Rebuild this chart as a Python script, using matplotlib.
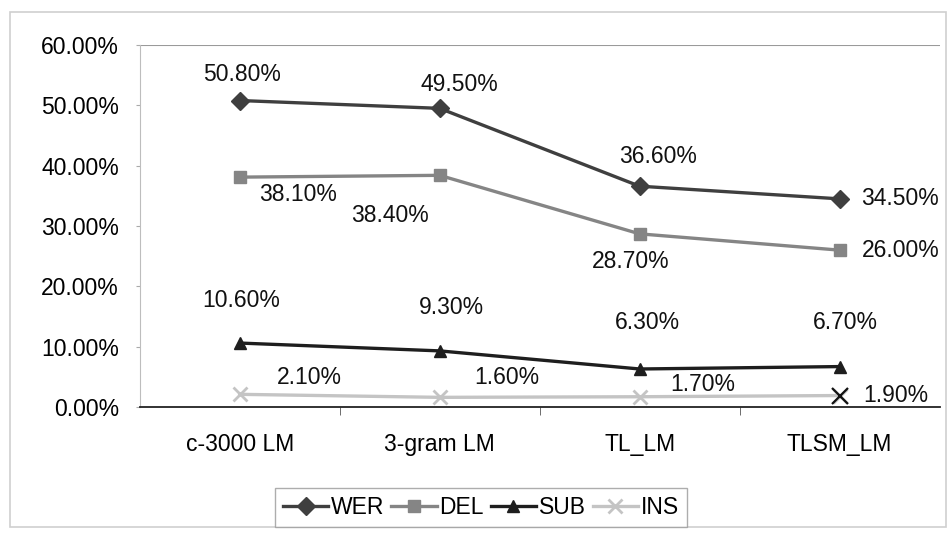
import numpy as np
import matplotlib
matplotlib.use('Agg')
import matplotlib.pyplot as plt
from matplotlib.patches import Rectangle
from matplotlib.ticker import PercentFormatter

plt.rcParams['font.family'] = ['Liberation Sans', 'DejaVu Sans']

# Error rates (%) per language model
categories = ['c-3000 LM', '3-gram LM', 'TL_LM', 'TLSM_LM']
wer = [50.8, 49.5, 36.6, 34.5]
dele = [38.1, 38.4, 28.7, 26.0]
sub = [10.6, 9.3, 6.3, 6.7]
ins = [2.1, 1.6, 1.7, 1.9]

# label offsets in pixels (dx, dy, ha) for each point
wer_off = [(2, 26, 'center'), (20, 24, 'center'), (18, 30, 'center'), (22, 0, 'left')]
del_off = [(58, -17, 'center'), (-50, -40, 'center'), (-9, -28, 'center'), (22, 0, 'left')]
sub_off = [(2, 43, 'center'), (12, 43, 'center'), (8, 46, 'center'), (6, 44, 'center')]
ins_off = [(70, 17, 'center'), (67, 20, 'center'), (63, 12, 'center'), (24, 0, 'left')]

fs = 16.5

fig = plt.figure(figsize=(9.5, 5.39), dpi=100)
ax = fig.add_axes([0.147, 0.2449, 0.842, 0.6716])

x = np.arange(len(categories))
series = [
    ('WER', wer, '#3f3f3f', 'D', 9, wer_off),
    ('DEL', dele, '#858585', 's', 9, del_off),
    ('SUB', sub, '#1e1e1e', '^', 8, sub_off),
    ('INS', ins, '#c4c4c4', 'x', 10, ins_off),
]
for name, vals, col, mk, ms, offs in series:
    ax.plot(x, vals, color=col, lw=2.4, marker=mk, ms=ms, mew=2 if mk == 'x' else 1,
            mec=col, mfc=col, label=name)
    for xi, v, (dx, dy, ha) in zip(x, vals, offs):
        ax.annotate(f'{v:.2f}%', (xi, v), xytext=(dx * 0.72, dy * 0.72),
                    textcoords='offset points', ha=ha, va='center',
                    fontsize=fs, color='#111111')

# last INS point is drawn dark
ax.plot(x[-1], ins[-1], marker='x', ms=12, mew=1.6, color='#111111')

ax.set_xlim(-0.5, 3.5)
ax.set_ylim(0, 60)
ax.set_yticks(np.arange(0, 61, 10))
ax.yaxis.set_major_formatter(PercentFormatter(decimals=2))
ax.set_xticks(x)
ax.set_xticklabels(categories)
ax.set_xticks([0.5, 1.5, 2.5], minor=True)
ax.tick_params(axis='x', which='major', length=0, pad=19, labelsize=fs)
ax.tick_params(axis='x', which='minor', length=6, color='#555555')
ax.tick_params(axis='y', length=3, color='#aaaaaa', labelsize=fs, pad=12)

ax.axhline(60, color='#9a9a9a', lw=1.5)
for s in ['top', 'right']:
    ax.spines[s].set_visible(False)
ax.spines['left'].set_color('#bdbdbd')
ax.spines['bottom'].set_color('#222222')
ax.spines['bottom'].set_linewidth(1.3)

leg = fig.legend(loc='center', bbox_to_anchor=(0.506, 0.059), ncol=4,
                 fontsize=fs, frameon=True, fancybox=False, handlelength=2.0,
                 handletextpad=0.1, columnspacing=0.3, borderpad=0.35)
leg.get_frame().set_edgecolor('#999999')
leg.get_frame().set_linewidth(1.0)

# outer chart border
fig.patches.append(Rectangle((0.011, 0.022), 0.985, 0.955, transform=fig.transFigure,
                             fill=False, edgecolor='#cfcfcf', lw=1.2))

fig.savefig('out.png', dpi=100, facecolor='white')
